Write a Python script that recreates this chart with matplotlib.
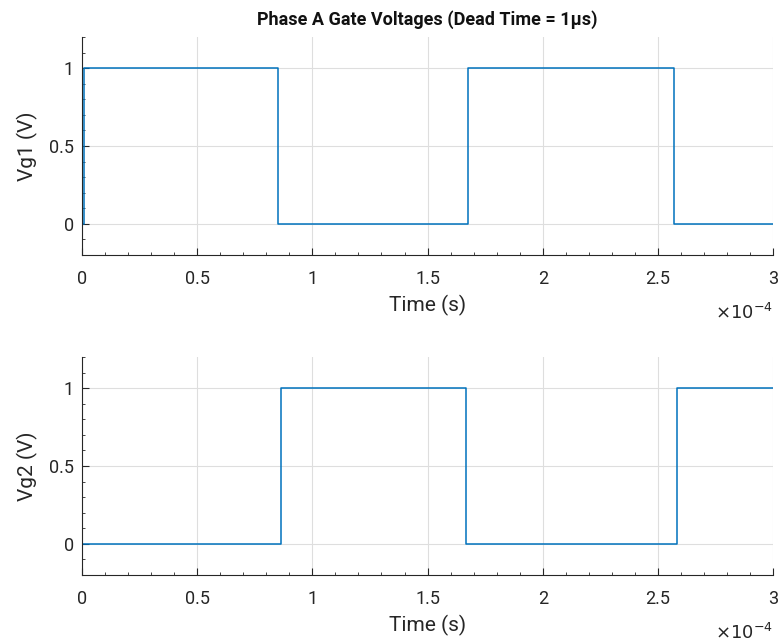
import numpy as np
import matplotlib.pyplot as plt
from matplotlib.ticker import MultipleLocator, FuncFormatter

plt.rcParams['font.family'] = ['Roboto', 'DejaVu Sans']

# switching instants (s) and the level that holds after each one
vg1_t = [0.0, 0.01e-4, 0.850e-4, 1.677e-4, 2.570e-4, 3.0e-4]
vg1_v = [0, 1, 0, 1, 0, 0]
vg2_t = [0.0, 0.864e-4, 1.667e-4, 2.584e-4, 3.0e-4]
vg2_v = [0, 1, 0, 1, 1]

xticks = [0, 0.5, 1, 1.5, 2, 2.5, 3]
yticks = [0, 0.5, 1]

fig = plt.figure(figsize=(7.82, 6.43), dpi=100)
ax1 = fig.add_axes([0.105, 0.6034, 0.8835, 0.339])
ax2 = fig.add_axes([0.105, 0.1058, 0.8835, 0.339])

def style(ax, ylab):
    ax.set_xlim(0, 3e-4)
    ax.set_ylim(-0.2, 1.2)
    ax.set_xticks([x * 1e-4 for x in xticks])
    ax.xaxis.set_major_formatter(FuncFormatter(lambda v, p: f'{v*1e4:g}'))
    ax.set_yticks(yticks)
    ax.yaxis.set_major_formatter(FuncFormatter(lambda v, p: f'{v:g}'))
    ax.xaxis.set_minor_locator(MultipleLocator(0.1e-4))
    ax.yaxis.set_minor_locator(MultipleLocator(0.1))
    ax.tick_params(which='both', direction='in', colors='#262626', labelsize=13)
    ax.tick_params(which='major', length=5)
    ax.tick_params(which='minor', length=2.5)
    ax.tick_params(axis='x', which='major', pad=11)
    ax.tick_params(axis='y', which='major', pad=6)
    ax.grid(True, which='major', color='#dedede', linewidth=0.8)
    ax.set_axisbelow(True)
    for s in ['top', 'right']:
        ax.spines[s].set_visible(False)
    for s in ['left', 'bottom']:
        ax.spines[s].set_color('#262626')
        ax.spines[s].set_linewidth(0.8)
    ax.set_xlabel('Time (s)', fontsize=15, color='#262626', labelpad=5)
    ax.set_ylabel(ylab, fontsize=15, color='#262626', labelpad=8)
    ax.text(1.0, -0.265, r'$\times10^{-4}$', transform=ax.transAxes,
            ha='right', va='center', fontsize=13, color='#262626')

ax1.plot(vg1_t, vg1_v, drawstyle='steps-post', color='#0072BD', linewidth=1.1)
ax2.plot(vg2_t, vg2_v, drawstyle='steps-post', color='#0072BD', linewidth=1.1)
style(ax1, 'Vg1 (V)')
style(ax2, 'Vg2 (V)')
ax1.set_title('Phase A Gate Voltages (Dead Time = 1μs)', fontsize=13,
              color='#111111', fontweight='semibold', pad=9)

fig.savefig('out.png', dpi=100)
